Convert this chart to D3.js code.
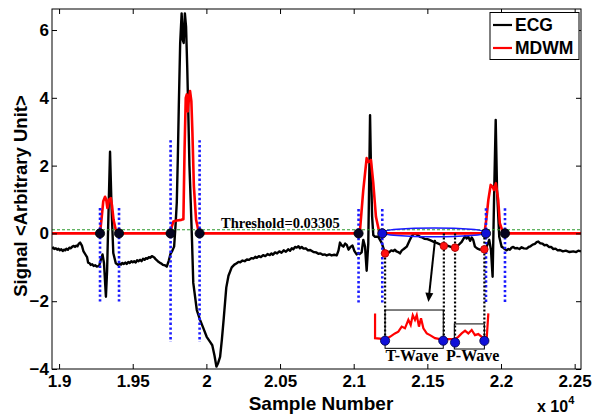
<!DOCTYPE html>
<html>
<head>
<meta charset="utf-8">
<script src="https://d3js.org/d3.v7.min.js"></script>
<style>
  body { margin: 0; background: #fff; }
  svg { display: block; }
  text { font-family: Arial, "Liberation Sans", sans-serif; font-weight: bold; }
  .serif { font-family: "Times New Roman", "Liberation Serif", serif; font-weight: bold; }
</style>
</head>
<body>
<svg width="596" height="414"></svg>
<script>
// ECG trace, [sample, value]
var ecg = [[18952,-0.45],[18960,-0.42],[18968,-0.46],[18978,-0.44],[18988,-0.48],[18996,-0.45],[19005,-0.50],[19015,-0.47],[19025,-0.52],[19033,-0.48],[19042,-0.50],[19050,-0.45],[19060,-0.48],[19070,-0.42],[19080,-0.44],[19090,-0.39],[19100,-0.37],[19108,-0.40],[19117,-0.36],[19125,-0.38],[19133,-0.31],[19143,-0.27],[19155,-0.36],[19165,-0.52],[19180,-0.63],[19190,-0.70],[19197,-0.86],[19207,-0.88],[19215,-0.93],[19225,-0.91],[19235,-0.96],[19245,-0.94],[19256,-0.98],[19272,-0.96],[19285,-0.75],[19295,-0.62],[19305,-0.88],[19318,-1.87],[19326,-1.1],[19336,0.7],[19346,2.41],[19356,0.8],[19368,-0.58],[19385,-0.88],[19402,-0.93],[19412,-0.89],[19420,-0.92],[19430,-0.87],[19440,-0.90],[19450,-0.86],[19459,-0.90],[19470,-0.84],[19480,-0.87],[19490,-0.82],[19500,-0.85],[19510,-0.82],[19520,-0.86],[19530,-0.79],[19540,-0.82],[19550,-0.78],[19560,-0.82],[19570,-0.75],[19580,-0.78],[19590,-0.73],[19600,-0.75],[19610,-0.70],[19620,-0.72],[19630,-0.67],[19638,-0.69],[19648,-0.72],[19655,-0.76],[19670,-0.82],[19685,-0.87],[19695,-0.89],[19705,-0.93],[19718,-0.94],[19731,-0.98],[19745,-0.80],[19755,-0.62],[19770,-0.50],[19781,-0.39],[19790,0.2],[19799,0.9],[19806,2.2],[19813,3.8],[19822,5.6],[19832,6.49],[19840,5.7],[19846,5.62],[19854,6.49],[19862,6.1],[19870,4.9],[19877,3.6],[19885,2.0],[19894,0.9],[19903,-0.3],[19911,-1.46],[19935,-2.26],[19957,-2.55],[19980,-2.8],[20002,-3.05],[20025,-3.2],[20040,-3.3],[20055,-3.6],[20068,-3.93],[20080,-3.82],[20093,-3.64],[20105,-3.14],[20118,-2.5],[20135,-1.6],[20150,-1.25],[20172,-1.0],[20190,-0.92],[20206,-0.88],[20218,-0.84],[20230,-0.85],[20245,-0.80],[20260,-0.82],[20275,-0.77],[20290,-0.78],[20305,-0.73],[20320,-0.74],[20332,-0.69],[20342,-0.72],[20356,-0.67],[20370,-0.70],[20385,-0.64],[20400,-0.67],[20415,-0.61],[20430,-0.64],[20442,-0.59],[20452,-0.63],[20466,-0.56],[20480,-0.59],[20495,-0.53],[20510,-0.57],[20525,-0.50],[20540,-0.54],[20555,-0.47],[20568,-0.51],[20580,-0.44],[20590,-0.47],[20602,-0.40],[20613,-0.42],[20625,-0.38],[20635,-0.44],[20647,-0.40],[20659,-0.45],[20675,-0.44],[20690,-0.50],[20705,-0.49],[20727,-0.55],[20745,-0.56],[20760,-0.60],[20775,-0.59],[20790,-0.63],[20805,-0.62],[20817,-0.65],[20835,-0.62],[20850,-0.65],[20868,-0.63],[20885,-0.65],[20897,-0.5],[20907,-0.27],[20918,-0.35],[20930,-0.39],[20942,-0.30],[20953,-0.34],[20965,-0.48],[20978,-0.40],[20992,-0.36],[21005,-0.52],[21020,-0.62],[21030,-0.58],[21040,-0.61],[21054,-0.56],[21065,-0.19],[21077,-0.39],[21088,-1.1],[21099,-0.3],[21105,1.5],[21111,3.49],[21117,2.0],[21125,0.5],[21133,-0.05],[21145,-0.10],[21167,-0.10],[21190,-0.28],[21213,-0.58],[21226,-0.53],[21240,-0.56],[21255,-0.50],[21269,-0.52],[21280,-0.48],[21290,-0.53],[21302,-0.55],[21314,-0.59],[21327,-0.50],[21340,-0.46],[21360,-0.39],[21380,-0.20],[21394,-0.08],[21405,-0.03],[21416,0.0],[21435,-0.05],[21450,-0.10],[21465,-0.12],[21480,-0.16],[21500,-0.17],[21518,-0.20],[21540,-0.24],[21563,-0.28],[21590,-0.33],[21612,-0.37],[21635,-0.36],[21660,-0.40],[21688,-0.42],[21710,-0.35],[21733,-0.25],[21756,-0.08],[21767,-0.15],[21778,-0.10],[21790,-0.22],[21801,-0.12],[21812,-0.20],[21823,-0.39],[21840,-0.45],[21857,-0.48],[21875,-0.47],[21887,-0.47],[21903,-0.39],[21920,-0.19],[21932,-0.49],[21943,-1.28],[21954,1.28],[21964,3.35],[21973,1.28],[21988,-0.10],[22004,-0.39],[22015,-0.42],[22025,-0.46],[22038,-0.50],[22050,-0.46],[22060,-0.48],[22072,-0.42],[22083,-0.40],[22095,-0.44],[22110,-0.43],[22125,-0.46],[22140,-0.41],[22155,-0.44],[22174,-0.45],[22188,-0.40],[22200,-0.38],[22215,-0.33],[22230,-0.31],[22242,-0.26],[22253,-0.24],[22265,-0.29],[22280,-0.30],[22295,-0.35],[22310,-0.34],[22325,-0.40],[22340,-0.40],[22355,-0.46],[22370,-0.45],[22385,-0.50],[22400,-0.49],[22420,-0.53],[22440,-0.51],[22465,-0.55],[22491,-0.53],[22510,-0.55],[22525,-0.51],[22543,-0.53]];

// MDWM output, [sample, value]
var mdwm = [[18952,0],[19278,0],[19290,0.5],[19300,0.95],[19312,1.08],[19320,1.0],[19328,0.75],[19340,1.0],[19351,1.04],[19360,0.8],[19370,0.4],[19385,0.1],[19405,0],[19753,0],[19765,0.2],[19776,0.35],[19800,0.38],[19830,0.40],[19844,0.42],[19852,2.5],[19860,4.0],[19867,4.1],[19874,3.6],[19882,4.0],[19889,4.2],[19898,3.9],[19905,3.0],[19915,1.4],[19930,0.4],[19950,0],[21031,0],[21043,0.1],[21065,1.28],[21088,2.22],[21100,2.1],[21106,2.12],[21117,2.17],[21133,1.48],[21151,0.49],[21173,0.05],[21192,0],[21887,0],[21900,0.4],[21914,0.99],[21930,1.43],[21943,1.38],[21952,1.28],[21965,1.48],[21981,0.99],[21992,0.3],[22015,0],[22543,0]];

// zoomed copy of MDWM between beats (drawn under the plot)
var inset = [[21145,-2.36],[21145,-3.09],[21213,-3.12],[21246,-3.05],[21280,-2.95],[21303,-2.90],[21326,-2.75],[21348,-2.80],[21371,-2.55],[21387,-2.70],[21401,-2.41],[21416,-2.55],[21428,-2.41],[21443,-2.75],[21457,-2.50],[21473,-2.80],[21496,-2.95],[21518,-3.00],[21552,-3.09],[21586,-3.12],[21608,-3.12],[21688,-3.12],[21710,-3.05],[21733,-2.95],[21756,-2.87],[21778,-2.95],[21801,-2.85],[21823,-3.00],[21846,-2.97],[21869,-3.05],[21887,-3.12],[21903,-3.09],[21914,-2.36]];

var threshold = 0.03305;
var thresholdLine = 0.11;   // where the dashed line sits in the picture
var bounds = [19278, 19407, 19757, 19954, 21033, 21194, 21898, 22027];
var boundTop = [0.75, 0.75, 2.75, 2.75, 0.72, 0.72, 0.74, 0.74];
var boundBottom = [-2.05, -2.05, -3.2, -3.2, -2.06, -2.06, -2.06, -2.06];
var boundBlue = [false, false, false, false, false, true, true, false];
var waveDots = [[21213,-0.59],[21612,-0.37],[21688,-0.42],[21887,-0.47]];
var insetDots = [[21213,-3.165],[21608,-3.165],[21688,-3.22],[21887,-3.17]];
var tBox = [21213, 21608, -2.26, -3.39];
var pBox = [21683, 21887, -2.67, -3.41];
var xTicks = [19000, 19500, 20000, 20500, 21000, 21500, 22000, 22500];
var yTicks = [-4, -2, 0, 2, 4, 6];

var svg = d3.select("svg"),
    plotL = 52, plotR = 581, plotT = 9, plotB = 369;

var x = d3.scaleLinear().domain([18952, 22543]).range([plotL, plotR]),
    y = d3.scaleLinear().domain([-4, 6.62]).range([plotB, plotT]);

svg.append("defs").append("clipPath").attr("id", "clip")
    .append("rect").attr("x", plotL).attr("y", plotT)
    .attr("width", plotR - plotL).attr("height", plotB - plotT);

var line = d3.line().x(function(d) { return x(d[0]); }).y(function(d) { return y(d[1]); });
var g = svg.append("g").attr("clip-path", "url(#clip)");

g.append("path").datum(ecg).attr("d", line)
    .attr("fill", "none").attr("stroke", "#000").attr("stroke-width", 2.4)
    .attr("stroke-linejoin", "round");

g.append("path").datum(mdwm).attr("d", line)
    .attr("fill", "none").attr("stroke", "#ff0000").attr("stroke-width", 2.6)
    .attr("stroke-linejoin", "round");

// threshold
g.append("line")
    .attr("x1", plotL).attr("x2", plotR)
    .attr("y1", y(thresholdLine)).attr("y2", y(thresholdLine))
    .attr("stroke", "#2f9a2f").attr("stroke-width", 1.1)
    .attr("stroke-dasharray", "3,2");

// blue dotted boundary markers
g.selectAll(".bnd").data(bounds).enter().append("line")
    .attr("x1", function(d) { return x(d); }).attr("x2", function(d) { return x(d); })
    .attr("y1", function(d, i) { return y(boundTop[i]); })
    .attr("y2", function(d, i) { return y(boundBottom[i]); })
    .attr("stroke", "#1a1aff").attr("stroke-width", 2.6)
    .attr("stroke-dasharray", "2.4,2.4");

// ellipse around the T/P region
var ex0 = x(21194), ex1 = x(21898);
g.append("ellipse")
    .attr("cx", (ex0 + ex1) / 2).attr("cy", y(0.03))
    .attr("rx", (ex1 - ex0) / 2).attr("ry", y(-0.1) - y(0.03))
    .attr("fill", "none").attr("stroke", "#1a1aff").attr("stroke-width", 1.6);

// black dotted projection lines
g.selectAll(".proj").data(waveDots).enter().append("line")
    .attr("x1", function(d) { return x(d[0]); }).attr("x2", function(d) { return x(d[0]); })
    .attr("y1", function(d, i) { return i === 0 ? y(d[1]) : y(0); })
    .attr("y2", function(d, i) { return y(insetDots[i][1]); })
    .attr("stroke", "#000").attr("stroke-width", 2.2)
    .attr("stroke-dasharray", "2,2");

// inset
g.append("path").datum(inset).attr("d", line)
    .attr("fill", "none").attr("stroke", "#ff0000").attr("stroke-width", 2.2);

[tBox, pBox].forEach(function(b) {
  g.append("rect")
      .attr("x", x(b[0])).attr("y", y(b[2]))
      .attr("width", x(b[1]) - x(b[0])).attr("height", y(b[3]) - y(b[2]))
      .attr("fill", "none").attr("stroke", "#000").attr("stroke-width", 1);
});

// arrow
var a0 = [21552, -0.19], a1 = [21507, -2.02];
var ax0 = x(a0[0]), ay0 = y(a0[1]), ax1 = x(a1[0]), ay1 = y(a1[1]);
var ang = Math.atan2(ay1 - ay0, ax1 - ax0);
g.append("line").attr("x1", ax0).attr("y1", ay0)
    .attr("x2", ax1 - 7 * Math.cos(ang)).attr("y2", ay1 - 7 * Math.sin(ang))
    .attr("stroke", "#000").attr("stroke-width", 2);
g.append("path")
    .attr("d", "M" + ax1 + "," + ay1 +
      "L" + (ax1 - 9 * Math.cos(ang) + 4 * Math.sin(ang)) + "," + (ay1 - 9 * Math.sin(ang) - 4 * Math.cos(ang)) +
      "L" + (ax1 - 9 * Math.cos(ang) - 4 * Math.sin(ang)) + "," + (ay1 - 9 * Math.sin(ang) + 4 * Math.cos(ang)) + "Z")
    .attr("fill", "#000");

// dots
g.selectAll(".wd").data(waveDots).enter().append("circle")
    .attr("cx", function(d) { return x(d[0]); }).attr("cy", function(d) { return y(d[1]); })
    .attr("r", 3.8).attr("fill", "#ff1010").attr("stroke", "#a00").attr("stroke-width", 0.8);

g.selectAll(".id").data(insetDots).enter().append("circle")
    .attr("cx", function(d) { return x(d[0]); }).attr("cy", function(d) { return y(d[1]); })
    .attr("r", 4.6).attr("fill", "#1010d8").attr("stroke", "#000040").attr("stroke-width", 0.8);

g.selectAll(".bd").data(bounds).enter().append("circle")
    .attr("cx", function(d) { return x(d); }).attr("cy", y(0))
    .attr("r", 4.6)
    .attr("fill", function(d, i) { return boundBlue[i] ? "#1010d8" : "#050520"; })
    .attr("stroke", "#000").attr("stroke-width", 0.8);

// annotations
svg.append("text").attr("class", "serif")
    .attr("x", 221).attr("y", 228).attr("font-size", 14.5)
    .text("Threshold=0.03305");
svg.append("text").attr("class", "serif").attr("text-anchor", "middle")
    .attr("x", x(21395)).attr("y", 361).attr("font-size", 16)
    .text("T-Wave");
svg.append("text").attr("class", "serif").attr("text-anchor", "middle")
    .attr("x", x(21808)).attr("y", 361).attr("font-size", 16)
    .text("P-Wave");

// axes (MATLAB style: ticks inside, box all round)
var fmt = function(d) { return String(+(d / 1e4).toFixed(2)); };
svg.append("g").attr("transform", "translate(0," + plotB + ")")
    .call(d3.axisBottom(x).tickValues(xTicks).tickFormat(fmt).tickSizeInner(-5).tickSizeOuter(0).tickPadding(6))
    .call(function(s) { s.selectAll("text").attr("font-size", 17).attr("fill", "#000"); });
svg.append("g").attr("transform", "translate(0," + plotT + ")")
    .call(d3.axisTop(x).tickValues(xTicks).tickFormat("").tickSizeInner(-5).tickSizeOuter(0));
svg.append("g").attr("transform", "translate(" + plotL + ",0)")
    .call(d3.axisLeft(y).tickValues(yTicks).tickSizeInner(-5).tickSizeOuter(0).tickPadding(3))
    .call(function(s) { s.selectAll("text").attr("font-size", 17).attr("fill", "#000"); });
svg.append("g").attr("transform", "translate(" + plotR + ",0)")
    .call(d3.axisRight(y).tickValues(yTicks).tickFormat("").tickSizeInner(-5).tickSizeOuter(0));
svg.selectAll(".domain").remove();
svg.selectAll(".tick line").attr("stroke", "#000");
svg.append("rect").attr("x", plotL).attr("y", plotT)
    .attr("width", plotR - plotL).attr("height", plotB - plotT)
    .attr("fill", "none").attr("stroke", "#000").attr("stroke-width", 1);

svg.append("text").attr("text-anchor", "middle")
    .attr("x", 321).attr("y", 410).attr("font-size", 19)
    .text("Sample Number");
var sci = svg.append("text").attr("x", 537).attr("y", 412).attr("font-size", 16);
sci.append("tspan").text("x 10");
sci.append("tspan").attr("dy", -8).attr("font-size", 11).text("4");
svg.append("text").attr("text-anchor", "middle")
    .attr("transform", "translate(27,196) rotate(-90)")
    .attr("font-size", 18.5)
    .text("Signal <Arbitrary Unit>");

// legend
var lg = svg.append("g");
lg.append("rect").attr("x", 490).attr("y", 12.5).attr("width", 89).attr("height", 47)
    .attr("fill", "#fff").attr("stroke", "#000").attr("stroke-width", 1);
var entries = [["ECG", "#000", 25], ["MDWM", "#ff0000", 48]];
entries.forEach(function(e) {
  lg.append("line").attr("x1", 493).attr("x2", 512).attr("y1", e[2]).attr("y2", e[2])
      .attr("stroke", e[1]).attr("stroke-width", 2.2);
  lg.append("text").attr("x", 515).attr("y", e[2] + 6).attr("font-size", 17.5).text(e[0]);
});
</script>
</body>
</html>
